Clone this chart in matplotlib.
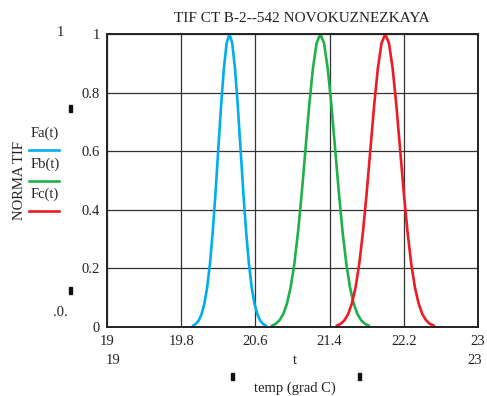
import matplotlib
matplotlib.use("Agg")
import matplotlib.pyplot as plt
from matplotlib.patches import Rectangle

# Verdier
t_a = [19.93, 19.96, 19.99, 20.02, 20.05, 20.08, 20.11, 20.14, 20.17, 20.20,
       20.23, 20.26, 20.29, 20.32, 20.35, 20.38, 20.41, 20.44, 20.47, 20.50,
       20.53, 20.56, 20.59, 20.62, 20.65, 20.68, 20.71]
F_a = [0.005, 0.011, 0.023, 0.044, 0.080, 0.135, 0.216, 0.325, 0.458, 0.607,
       0.755, 0.882, 0.969, 1.000, 0.969, 0.882, 0.755, 0.607, 0.458, 0.325,
       0.216, 0.135, 0.080, 0.044, 0.023, 0.011, 0.005]

t_b = [20.78, 20.82, 20.86, 20.90, 20.94, 20.98, 21.02, 21.06, 21.10, 21.14,
       21.18, 21.22, 21.26, 21.30, 21.34, 21.38, 21.42, 21.46, 21.50, 21.54,
       21.58, 21.62, 21.66, 21.70, 21.74, 21.78, 21.82]
F_b = F_a[:]

t_c = [21.48, 21.52, 21.56, 21.60, 21.64, 21.68, 21.72, 21.76, 21.80, 21.84,
       21.88, 21.92, 21.96, 22.00, 22.04, 22.08, 22.12, 22.16, 22.20, 22.24,
       22.28, 22.32, 22.36, 22.40, 22.44, 22.48, 22.52]
F_c = F_a[:]

x_ticks = [19, 19.8, 20.6, 21.4, 22.2, 23]
x_labels = ["19", "19.8", "20.6", "21.4", "22.2", "23"]
y_ticks = [0, 0.2, 0.4, 0.6, 0.8, 1]
y_labels = ["0", "0.2", "0.4", "0.6", "0.8", "1"]

blaa = "#00aeef"
gronn = "#1fb04a"
rod = "#ed1c24"

plt.rcParams["font.family"] = ["Liberation Serif", "DejaVu Serif"]
plt.rcParams["font.size"] = 10.5

W, H = 487, 396
fig = plt.figure(figsize=(W / 100, H / 100), dpi=100)
ax = fig.add_axes([107 / W, 1 - 327 / H, (478 - 107) / W, (327 - 34) / H])

ax.plot(t_a, F_a, color=blaa, lw=1.9)
ax.plot(t_b, F_b, color=gronn, lw=1.9)
ax.plot(t_c, F_c, color=rod, lw=1.9)

ax.set_xlim(19, 23)
ax.set_ylim(0, 1)
ax.set_xticks(x_ticks)
ax.set_xticklabels(x_labels)
ax.set_yticks(y_ticks)
ax.set_yticklabels(y_labels)
ax.tick_params(axis="x", length=0, pad=6, colors="#222222", labelsize=10.5)
ax.tick_params(axis="y", length=0, pad=5, colors="#222222", labelsize=10.5)
ax.grid(True, color="#333333", lw=0.9)
for s in ax.spines.values():
    s.set_color("#222222")
    s.set_linewidth(1.4)

def px(x, y):
    return x / W, 1 - y / H

tk = dict(color="#222222", fontsize=10.5)
fig.text(*px(302, 18), "TIF CT B-2--542 NOVOKUZNEZKAYA", ha="center", va="center", fontsize=11, color="#222222")
fig.text(*px(60, 33), "1", ha="center", va="center", **tk)
fig.text(*px(60, 312), ".0.", ha="center", va="center", **tk)
fig.text(*px(113, 361), "19", ha="center", va="center", **tk)
fig.text(*px(475, 361), "23", ha="center", va="center", **tk)
fig.text(*px(295, 361), "t", ha="center", va="center", **tk)
fig.text(*px(295, 388), "temp (grad C)", ha="center", va="center", **tk)
fig.text(*px(20, 180), "NORMA TIF", ha="center", va="center", rotation=90, **tk)

# legende
for y, navn, farge in [(133, "Fa(t)", blaa), (164, "Fb(t)", gronn), (194, "Fc(t)", rod)]:
    fig.text(*px(45, y), navn, ha="center", va="center", **tk)
    fig.add_artist(plt.Line2D([29 / W, 59 / W], [1 - (y + 17) / H] * 2, color=farge, lw=1.9))

# små merker
for x, y in [(70, 108), (70, 290), (232, 376), (359, 376)]:
    fig.add_artist(Rectangle((x / W - 1.5 / W, 1 - (y + 3.5) / H), 3 / W, 7 / H,
                             transform=fig.transFigure, color="#111111"))

fig.savefig("out.png", dpi=100)
